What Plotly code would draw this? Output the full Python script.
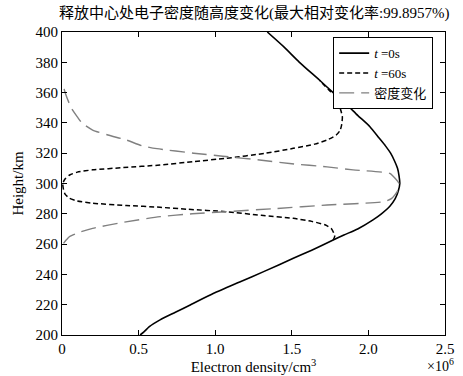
import plotly.graph_objects as go

# Electron density (x10^6 /cm^3) vs height (km)
h_t0 = [200, 202, 205.5, 210, 215, 220, 227.5, 235, 242, 250.6, 256, 262.7, 266, 270, 276, 280, 285, 290, 295, 300, 305, 310, 315, 320, 325, 330, 337.5, 345, 352, 360, 368.3, 380, 390, 400]
d_t0 = [0.51, 0.535, 0.57, 0.64, 0.74, 0.84, 0.99, 1.16, 1.32, 1.51, 1.63, 1.77, 1.84, 1.93, 2.03, 2.085, 2.14, 2.175, 2.195, 2.205, 2.20, 2.19, 2.17, 2.145, 2.11, 2.07, 2.01, 1.93, 1.86, 1.77, 1.68, 1.55, 1.45, 1.34]

h_t60 = [262.7, 265, 267, 270, 272.6, 275, 277, 279, 281.4, 283, 284.3, 285.5, 287, 288.5, 290.2, 293, 296, 300, 303, 305.6, 307.5, 309, 310.5, 312.2, 314.5, 316.6, 320, 323.2, 326, 328.7, 332, 335, 338.6, 344, 350, 354, 357.3, 361, 365, 368.3]
d_t60 = [1.77, 1.78, 1.775, 1.76, 1.72, 1.63, 1.51, 1.30, 1.07, 0.82, 0.64, 0.42, 0.20, 0.10, 0.05, 0.02, 0.01, 0.005, 0.02, 0.05, 0.10, 0.20, 0.40, 0.64, 0.86, 1.07, 1.33, 1.51, 1.65, 1.73, 1.79, 1.815, 1.825, 1.83, 1.815, 1.80, 1.79, 1.75, 1.71, 1.68]

h_chg = [260.5, 263, 265, 268, 270.4, 274, 278.1, 280, 281.4, 283.5, 285.8, 288, 290, 295, 300, 305, 306.7, 309, 311, 313, 315.5, 318, 320, 323, 325, 328.7, 332, 335.3, 340, 344, 350, 357.3, 362, 365]
d_chg = [0.01, 0.03, 0.05, 0.12, 0.20, 0.38, 0.64, 0.85, 1.07, 1.40, 1.73, 2.10, 2.15, 2.19, 2.20, 2.16, 2.14, 1.90, 1.73, 1.50, 1.29, 1.05, 0.86, 0.62, 0.52, 0.42, 0.30, 0.20, 0.13, 0.10, 0.06, 0.03, 0.015, 0.01]

x_ticks = [0, 0.5, 1.0, 1.5, 2.0, 2.5]
x_ticktext = ["0", "0.5", "1.0", "1.5", "2.0", "2.5"]
y_ticks = [200, 220, 240, 260, 280, 300, 320, 340, 360, 380, 400]

serif = "Liberation Serif, Times New Roman, Noto Sans CJK SC, serif"

fig = go.Figure()
fig.add_trace(go.Scatter(x=d_t0, y=h_t0, mode="lines", name="<i>t</i> =0s",
                         line=dict(color="black", width=1.6, shape="spline", smoothing=0.6)))
fig.add_trace(go.Scatter(x=d_t60, y=h_t60, mode="lines", name="<i>t</i> =60s",
                         line=dict(color="black", width=1.5, dash="5px,3px", shape="spline", smoothing=0.6)))
fig.add_trace(go.Scatter(x=d_chg, y=h_chg, mode="lines", name="密度变化",
                         line=dict(color="#808080", width=1.4, dash="15px,7px", shape="spline", smoothing=0.6)))

axis_common = dict(showline=True, linecolor="black", linewidth=1, mirror="ticks",
                   ticks="inside", ticklen=5, tickcolor="black", showgrid=False, zeroline=False,
                   automargin=False,
                   tickfont=dict(family=serif, size=15, color="black"))

fig.update_layout(
    width=463, height=376,
    margin=dict(l=62, r=18, t=32, b=41, autoexpand=False),
    paper_bgcolor="white", plot_bgcolor="white",
    title=dict(text="释放中心处电子密度随高度变化(最大相对变化率:99.8957%)",
               x=0.549, xanchor="center", y=1 - 13 / 376, yanchor="middle",
               automargin=False,
               font=dict(family=serif, size=15, color="black")),
    xaxis=dict(range=[0, 2.5], tickvals=x_ticks, ticktext=x_ticktext,
               title=dict(text="Electron density/cm<sup>3</sup>", standoff=1,
                          font=dict(family=serif, size=15, color="black")),
               **axis_common),
    yaxis=dict(range=[200, 400], tickvals=y_ticks,
               title=dict(text="Height/km", standoff=8,
                          font=dict(family=serif, size=15, color="black")),
               **axis_common),
    legend=dict(x=0.708, y=0.983, xanchor="left", yanchor="top",
                bordercolor="black", borderwidth=1, bgcolor="white",
                font=dict(family=serif, size=13, color="black"),
                tracegroupgap=0),
    showlegend=True,
)

fig.add_annotation(text="×10<sup>6</sup>", xref="paper", yref="paper",
                   x=1.03, y=-0.1, xanchor="right", yanchor="middle", showarrow=False,
                   font=dict(family=serif, size=14, color="black"))

fig.write_html("out.html", config={"displayModeBar": False},
               post_script="document.body.style.margin='0';document.body.style.padding='0';")
